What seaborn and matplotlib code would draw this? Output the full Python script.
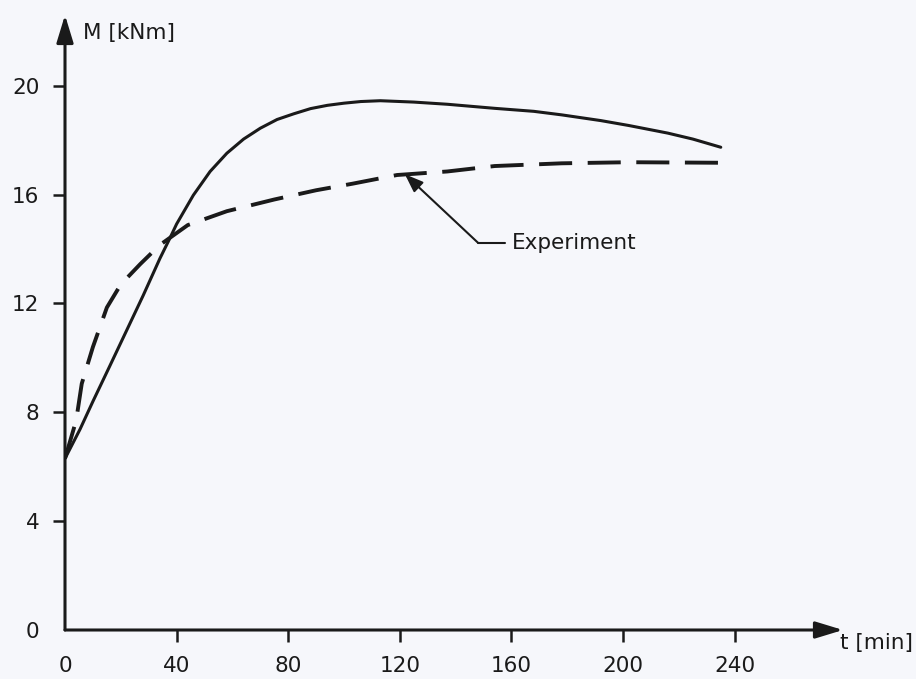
import matplotlib
matplotlib.use("Agg")
import matplotlib.pyplot as plt
import seaborn as sns
import pandas as pd

# ---- data ----
t_model = [0, 5.4, 10, 16, 22, 28, 34, 37.6, 40, 46, 52, 58, 64, 70, 76, 82, 88, 94, 100, 106,
           113, 125, 137, 154, 168, 178, 192, 202, 216, 225, 235]
m_model = [6.3, 7.38, 8.4, 9.69, 10.99, 12.29, 13.65, 14.4, 14.92, 15.98, 16.85, 17.52, 18.04, 18.44,
           18.76, 18.97, 19.16, 19.28, 19.36, 19.42, 19.45, 19.4, 19.32, 19.17, 19.06, 18.93, 18.72,
           18.54, 18.26, 18.04, 17.74]

t_exp = [0, 4, 6, 10, 15, 20, 27, 34, 44, 58, 75, 90, 103, 119, 137, 154, 178, 202, 235]
m_exp = [6.3, 7.7, 9.05, 10.4, 11.85, 12.7, 13.45, 14.15, 14.88, 15.39, 15.82, 16.16, 16.4, 16.72,
         16.85, 17.05, 17.15, 17.19, 17.17]

x_ticks = [0, 40, 80, 120, 160, 200, 240]
y_ticks = [0, 4, 8, 12, 16, 20]
x_label = "t [min]"
y_label = "M [kNm]"
exp_label = "Experiment"

df_model = pd.DataFrame({"t": t_model, "M": m_model})
df_exp = pd.DataFrame({"t": t_exp, "M": m_exp})

sns.set_style("white")
plt.rcParams["font.family"] = ["DejaVu Sans"]
bg = "#f6f7fb"
ink = "#1a1a1a"

fig = plt.figure(figsize=(9.16, 6.79), dpi=100, facecolor=bg)
ax = fig.add_axes([65 / 916, 1 - 630 / 679, (843 - 65) / 916, (630 - 15) / 679])
ax.set_facecolor(bg)

sns.lineplot(data=df_model, x="t", y="M", ax=ax, color=ink, lw=2.2, sort=False,
             solid_joinstyle="round", solid_capstyle="round")
sns.lineplot(data=df_exp, x="t", y="M", ax=ax, color=ink, lw=2.8, sort=False,
             dashes=False, linestyle=(0, (8.5, 4.0)), dash_joinstyle="round")

ax.set_xlim(0, 278.8)
ax.set_ylim(0, 22.6)
for s in ax.spines.values():
    s.set_visible(False)

# axes with arrow heads
for end in [(1, 0), (0, 1)]:
    ax.annotate("", xy=end, xytext=(0, 0), xycoords="axes fraction",
                arrowprops=dict(arrowstyle="-|>,head_length=1.05,head_width=0.32",
                                mutation_scale=16, lw=2.2, color=ink, shrinkA=0, shrinkB=0))

ax.set_xticks(x_ticks)
ax.set_yticks(y_ticks)
ax.set_xticklabels([str(v) for v in x_ticks])
ax.set_yticklabels([str(v) for v in y_ticks])
ax.tick_params(axis="both", direction="out", length=8.5, width=1.8, colors=ink,
               labelsize=15.5, bottom=True, left=True)
ax.tick_params(axis="y", pad=10)
ax.tick_params(axis="x", pad=10)
ax.xaxis.get_major_ticks()[0].tick1line.set_visible(False)
ax.yaxis.get_major_ticks()[0].tick1line.set_visible(False)
ax.set_xlabel("")
ax.set_ylabel("")

fig.text(83 / 916, 1 - 33 / 679, y_label, ha="left", va="center", fontsize=15.5, color=ink)
fig.text(876 / 916, 1 - 643 / 679, x_label, ha="center", va="center", fontsize=15.5, color=ink)

# Experiment leader
ax.text(160.2, 14.23, exp_label, ha="left", va="center", fontsize=15.5, color=ink)
ax.plot([148, 157.5], [14.23, 14.23], color=ink, lw=1.5)
ax.annotate("", xy=(121.8, 16.75), xytext=(148, 14.23), xycoords="data",
            arrowprops=dict(arrowstyle="-|>,head_length=0.8,head_width=0.3", mutation_scale=14,
                            lw=1.5, color=ink, shrinkA=0, shrinkB=0))

fig.savefig("out.png", dpi=100, facecolor=bg)
